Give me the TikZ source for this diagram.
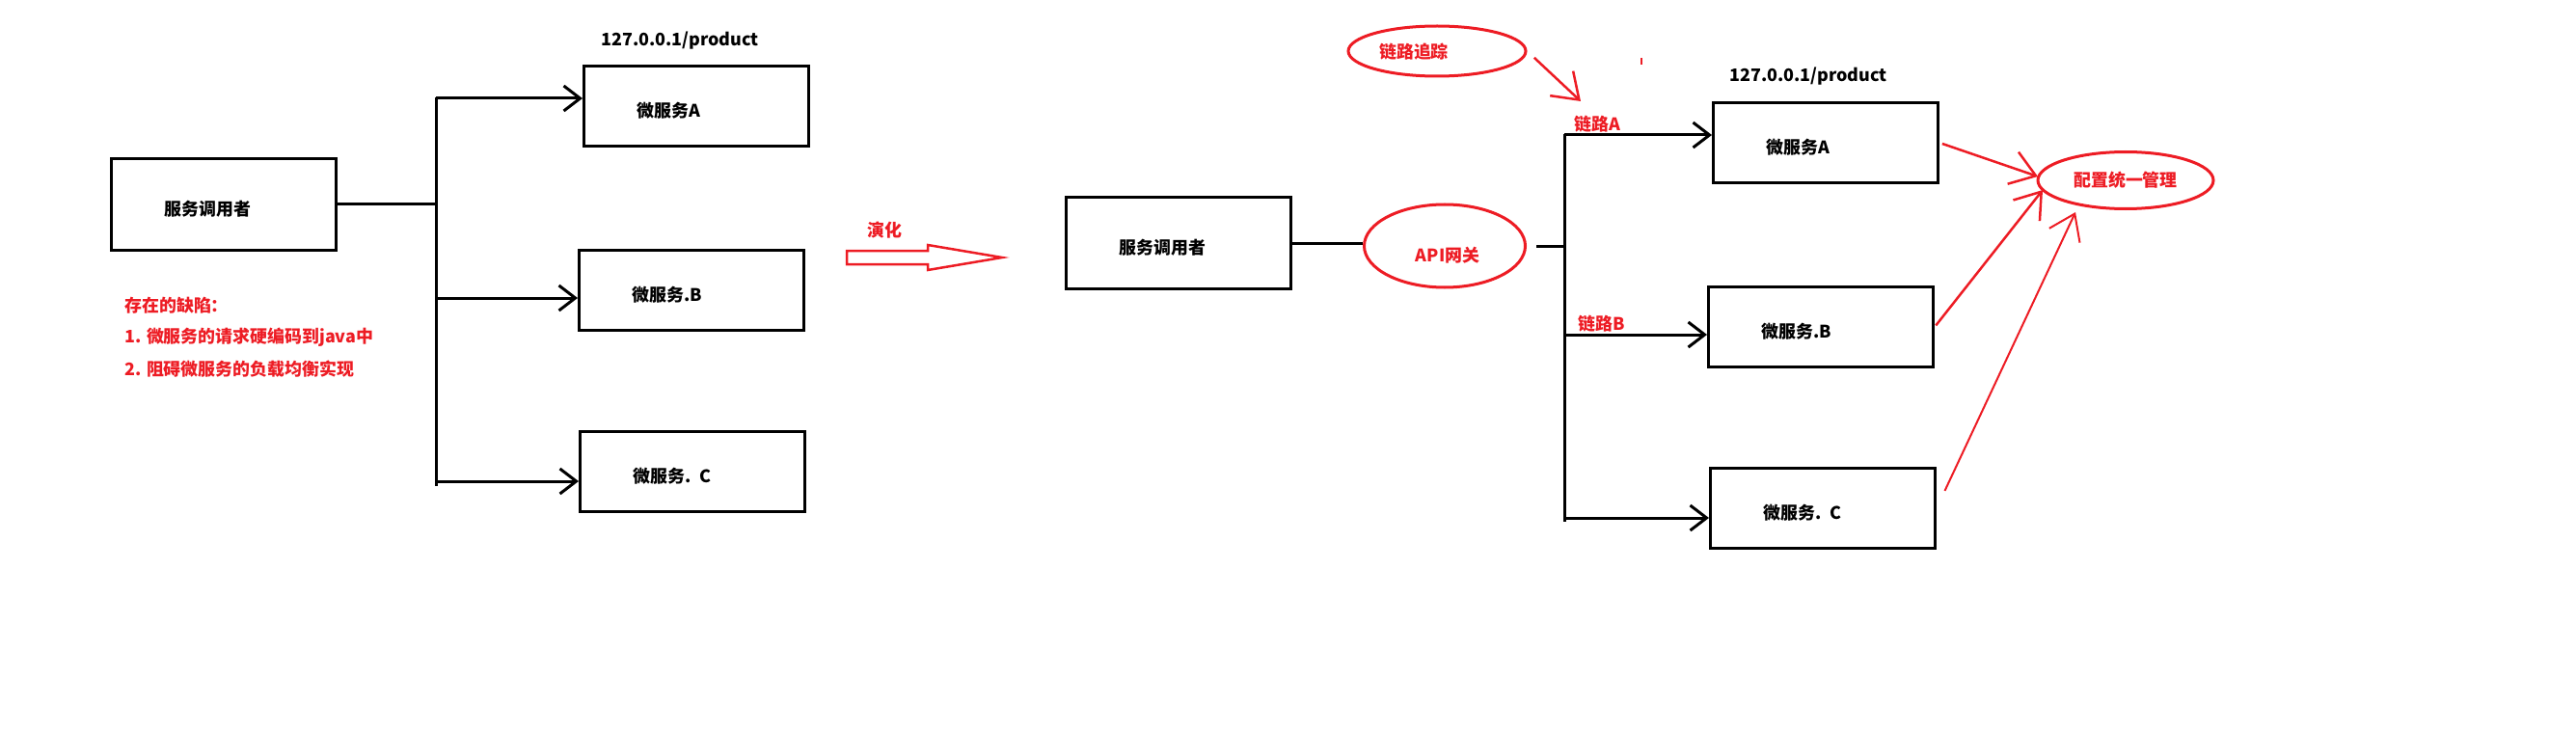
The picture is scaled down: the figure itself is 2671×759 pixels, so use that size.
\documentclass[tikz,border=0pt]{standalone}
\usepackage{fontspec}
\setmainfont{Noto Sans CJK SC}
\usetikzlibrary{shapes.geometric,arrows.meta}
\definecolor{dd}{RGB}{237,28,36}
\begin{document}
\begin{tikzpicture}[x=0.2mm,y=-0.2mm]
	\tikzset{hop/.style={draw,line width=0.6mm,rectangle,minimum width=46.6mm,minimum height=16.6mm,inner xsep=11mm,text width=24.6mm,text height=5mm,align=left,font=\bfseries\fontsize{10.2}{12}\selectfont},
		elip/.style={draw=dd,line width=0.6mm,ellipse,inner sep=0pt},
		chu/.style={inner sep=0pt,font=\bfseries\fontsize{10.2}{12}\selectfont},
		chudo/.style={chu,text=dd},
		mt/.style={line width=0.6mm,-{Straight Barb[length=3.4mm,width=5.2mm]}},
		md/.style={dd,line width=0.5mm,-{Straight Barb[length=5mm,width=7mm]}}}
	\useasboundingbox(0,0)rectangle(2671,759);
	%%Ben trai
	\path(232,212)node[hop,minimum height=19mm](O){服务调用者}
		(722,110)node[hop](A1){微服务A}
		(717,301)node[hop](B1){微服务.B}
		(718,489)node[hop](C1){微服务. C}
		(705,42)node[chu](url1){127.0.0.1/product};
	\path(452,101)coordinate(T1)(452,504)coordinate(T1d)(452,102)coordinate(tA1)(452,309)coordinate(tB1)(452,499)coordinate(tC1);
	\draw[line width=0.6mm](T1)--(T1d)(O.east)--(O.east-|T1);
	\foreach \x/\y in {tA1/A1,tB1/B1,tC1/C1}
	\draw[mt](\x)--(\x-|\y.west);
	\path(129,317)node[chudo,anchor=west](kd){存在的缺陷：}
		(129,350)node[chudo,anchor=west](kd1){1. 微服务的请求硬编码到java中}
		(129,383)node[chudo,anchor=west](kd2){2. 阻碍微服务的负载均衡实现};
	%%Mui ten giua
	\path(917,239)node[chudo](dh){演化};
	\draw[dd,line width=0.5mm](878,260)--(962,260)--(962,254)--(1039,267)--(962,280)--(962,274)--(878,274)--cycle;
	%%Ben phai
	\path(1222,252)node[hop,minimum height=19mm](O2){服务调用者}
		(1498,255)node[elip,minimum width=33.4mm,minimum height=17.2mm](G){}
		(1501,265)node[chudo](Gt){API网关}
		(1893,148)node[hop](A2){微服务A}
		(1888,339)node[hop](B2){微服务.B}
		(1890,527)node[hop](C2){微服务. C}
		(1875,79)node[chu](url2){127.0.0.1/product}
		(1656,129)node[chudo](lA){链路A}
		(1661,336)node[chudo](lB){链路B}
		(1490,53)node[elip,minimum width=36.8mm,minimum height=10.4mm](L){}
		(1466,54)node[chudo](Lt){链路追踪}
		(2204,187)node[elip,minimum width=36.4mm,minimum height=11.8mm,text=dd,font=\bfseries\fontsize{10.2}{12}\selectfont](P){配置统一管理};
	\path(1622,139)coordinate(T2)(1622,541)coordinate(T2d)(1622,140)coordinate(tA2)(1622,347)coordinate(tB2)(1622,537)coordinate(tC2);
	\draw[line width=0.6mm](T2)--(T2d)(O2.east)--(O2.east-|G.west);
	\draw[line width=0.6mm,shorten <=2mm](G.east)--(G.east-|T2);
	\foreach \x/\y in {tA2/A2,tB2/B2,tC2/C2}
	\draw[mt](\x)--(\x-|\y.west);
	%%Mui ten do
	\path(1639,105)coordinate(Ld)(2113,183)coordinate(pA)(2118,197)coordinate(pB)(2152,220)coordinate(pC);
	\draw[md,shorten <=2mm](L.east)--(Ld);
	\draw[dd,line width=0.5mm](1702,60)--(1702,67);
	\draw[md,shorten <=0.6mm](A2.east)--(pA);
	\draw[md,shorten <=0.4mm](B2.east)--(pB);
	\draw[md,line width=0.4mm,shorten <=4mm](C2.east)--(pC);
\end{tikzpicture}
\end{document}
